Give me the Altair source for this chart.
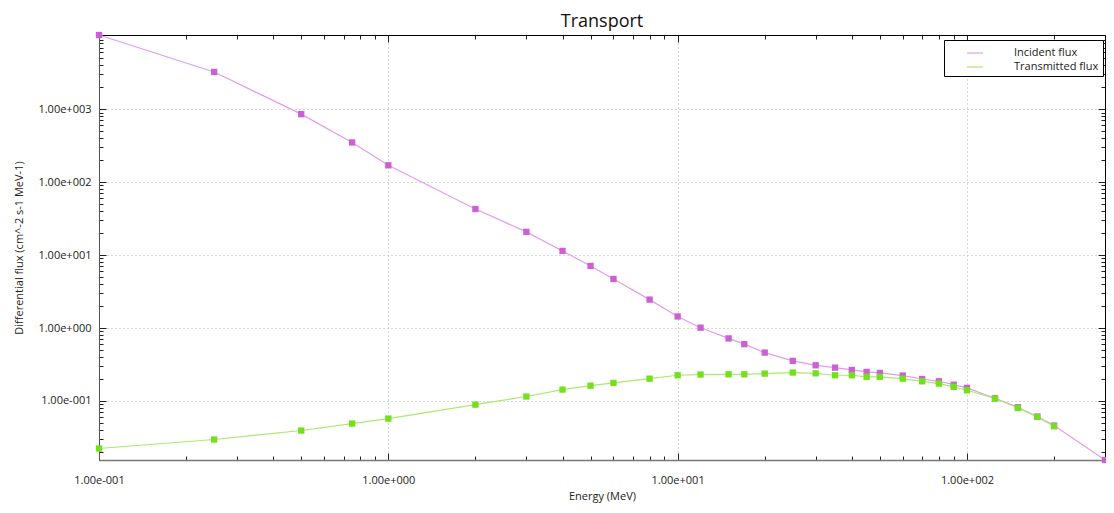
import altair as alt
import pandas as pd

energy_inc = [0.1, 0.25, 0.5, 0.75, 1, 2, 3, 4, 5, 6, 8, 10, 12, 15, 17, 20, 25, 30, 35, 40,
              45, 50, 60, 70, 80, 90, 100, 125, 150, 175, 200, 300]
incident = [10400, 3240, 855, 350, 170, 42.8, 20.8, 11.4, 7.1, 4.7, 2.45, 1.44, 1.01, 0.72, 0.60,
            0.46, 0.354, 0.308, 0.286, 0.266, 0.25, 0.242, 0.223, 0.20, 0.186, 0.167, 0.151,
            0.109, 0.082, 0.061, 0.046, 0.0155]
energy_tr = [0.1, 0.25, 0.5, 0.75, 1, 2, 3, 4, 5, 6, 8, 10, 12, 15, 17, 20, 25, 30, 35, 40,
             45, 50, 60, 70, 80, 90, 100, 125, 150, 175, 200]
transmitted = [0.0223, 0.0296, 0.0393, 0.0489, 0.0573, 0.089, 0.115, 0.143, 0.162, 0.177, 0.202,
               0.225, 0.23, 0.232, 0.232, 0.237, 0.245, 0.239, 0.225, 0.225, 0.214, 0.214, 0.202,
               0.186, 0.173, 0.156, 0.140, 0.108, 0.080, 0.0605, 0.045]
series_names = ["Incident flux", "Transmitted flux"]
line_colors = ["#e09cf0", "#a8ea70"]
point_colors = ["#cc5fd6", "#74e01c"]

x_ticks = [m * 10 ** e for e in [-1, 0, 1, 2] for m in range(1, 10)]
x_ticks = [v for v in x_ticks if v <= 300]
y_ticks = [m * 10 ** e for e in [-2, -1, 0, 1, 2, 3] for m in range(1, 10)]

df = pd.concat([
    pd.DataFrame({"Energy": energy_inc, "Flux": incident, "Series": series_names[0]}),
    pd.DataFrame({"Energy": energy_tr, "Flux": transmitted, "Series": series_names[1]}),
])

x_dom = [min(energy_inc), max(energy_inc)]
y_dom = [min(incident + transmitted), max(incident + transmitted)]

FONT = "Open Sans"
major = "abs(log(datum.value)/LN10 - round(log(datum.value)/LN10)) < 0.001"
lab = ("(" + major + ") ? ('1.00e' + (round(log(datum.value)/LN10) < 0 ? '-' : '+') + "
       "pad(toString(abs(round(log(datum.value)/LN10))), 3, '0', 'left')) : ''")


def build(tick_size, xpad, ypad):
    xs = alt.Scale(type="log", domain=x_dom, nice=False)
    ys = alt.Scale(type="log", domain=y_dom, nice=False)
    x_axis = alt.Axis(title="Energy (MeV)", values=x_ticks, labelExpr=lab, grid=True,
                      gridOpacity={"condition": {"test": major, "value": 1}, "value": 0},
                      gridDash=[1, 3], gridColor="#b0b0b0", tickSize=tick_size, tickColor="#222",
                      domainColor="#777", domainWidth=1.5, labelPadding=xpad, labelFont=FONT,
                      labelFontSize=11, labelColor="#222", titleFont=FONT, titleFontSize=11,
                      titleFontWeight="normal", titleColor="#222", titlePadding=2,
                      labelOverlap=False, labelFlush=False)
    y_axis = alt.Axis(title="Differential flux (cm^-2 s-1 MeV-1)", values=y_ticks, labelExpr=lab,
                      grid=True, gridOpacity={"condition": {"test": major, "value": 1}, "value": 0},
                      gridDash=[1, 3], gridColor="#b0b0b0", tickSize=tick_size, tickColor="#222",
                      domainColor="#555", domainWidth=1, labelPadding=ypad, labelFont=FONT,
                      labelFontSize=11, labelColor="#222", titleFont=FONT, titleFontSize=11,
                      titleFontWeight="normal", titleColor="#222", titlePadding=13,
                      labelOverlap=False, labelFlush=False)
    base = alt.Chart(df)
    lines = base.mark_line(strokeWidth=1.2).encode(
        x=alt.X("Energy:Q", scale=xs, axis=x_axis),
        y=alt.Y("Flux:Q", scale=ys, axis=y_axis),
        color=alt.Color("Series:N", scale=alt.Scale(domain=series_names, range=line_colors),
                        legend=alt.Legend(title=None, orient="none", legendX=845, legendY=5,
                                          fillColor="white", strokeColor="#000", padding=4,
                                          symbolType="stroke", symbolSize=256,
                                          symbolStrokeWidth=1.2, symbolOffset=18,
                                          labelFont=FONT, labelFontSize=11, labelColor="#222",
                                          rowPadding=0, labelOffset=30)),
        detail="Series:N",
    )
    points = base.mark_square(size=40, opacity=1).encode(
        x=alt.X("Energy:Q", scale=xs, axis=None),
        y=alt.Y("Flux:Q", scale=ys, axis=None),
        color=alt.Color("Series:N", scale=alt.Scale(domain=series_names, range=point_colors),
                        legend=None),
    )
    mirror = base.mark_line(opacity=0).encode(
        x=alt.X("Energy:Q", scale=xs, axis=alt.Axis(orient="top", values=x_ticks, labels=False,
                                                     title=None, grid=False, tickSize=tick_size,
                                                     tickColor="#222", domainColor="#000")),
        y=alt.Y("Flux:Q", scale=ys, axis=alt.Axis(orient="right", values=y_ticks, labels=False,
                                                   title=None, grid=False, tickSize=tick_size,
                                                   tickColor="#222", domainColor="#000")),
        detail="Series:N",
    )
    return alt.layer(lines, points, mirror).resolve_scale(color="independent").resolve_axis(
        x="independent", y="independent"
    ).properties(
        width=1006, height=425,
        title=alt.Title("Transport", font=FONT, fontSize=18, fontWeight="normal", color="#111",
                        offset=1),
        autosize=alt.AutoSizeParams(type="none"),
        padding={"left": 91, "top": 27, "right": 1, "bottom": 45},
    ).configure_view(stroke=None).configure(background="white")


try:
    chart = build({"condition": {"test": major, "value": -7}, "value": -4}, 21, 15)
    chart.to_dict()
except Exception:
    chart = build(alt.ExprRef("-5"), 19, 13)

chart.save("out.html", embed_options={"renderer": "svg", "actions": False})
